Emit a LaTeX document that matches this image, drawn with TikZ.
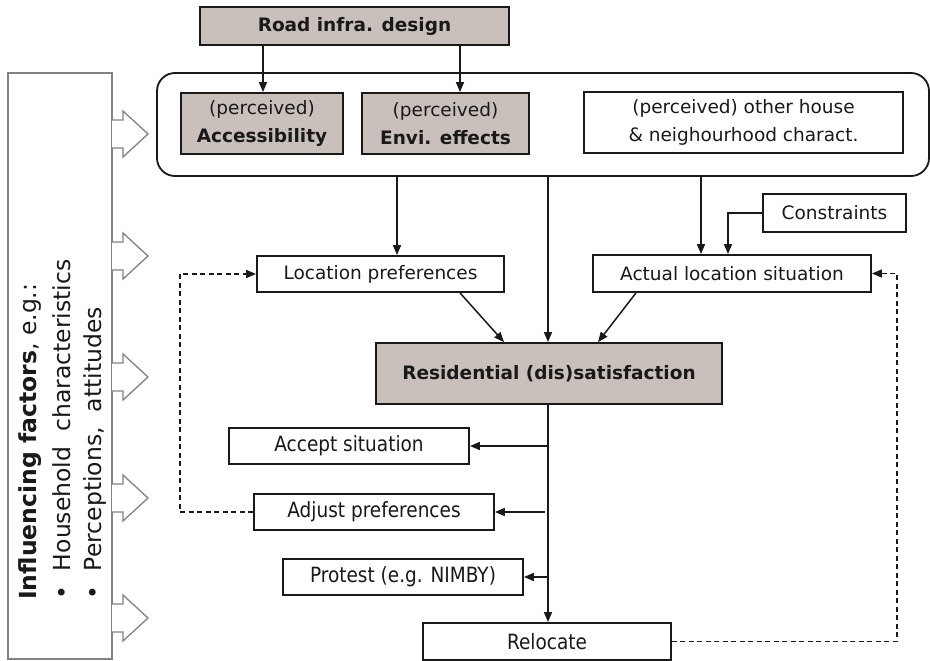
\documentclass[tikz,border=0pt]{standalone}
\usepackage{fontspec}
\setmainfont{DejaVu Sans}
\newfontfamily\condfont[FakeStretch=0.88]{DejaVu Sans}
\usetikzlibrary{arrows.meta,calc}
\definecolor{boxgray}{RGB}{201,192,188}
\definecolor{ink}{RGB}{25,25,25}
\definecolor{lightline}{RGB}{130,130,130}
\tikzset{
  arr/.style={draw=ink,line width=1.5pt,-{Triangle[length=10pt,width=8pt]}},
  dasharr/.style={draw=ink,line width=1.4pt,dash pattern=on 5pt off 3.5pt,-{Triangle[length=10pt,width=8pt]}},
  basebox/.style={draw=ink,line width=1.8pt,inner sep=0pt,align=center,text=ink,font=\fontsize{18.5}{27.5}\selectfont},
  graybox/.style={basebox,fill=boxgray},
  whitebox/.style={basebox,fill=white},
  condbox/.style={basebox,fill=white,font=\condfont\fontsize{21}{24}\selectfont},
  hollow/.style={draw=lightline,line width=1.3pt,fill=white},
  sidetext/.style={rotate=90,anchor=west,inner sep=0pt,text=ink,font=\fontsize{23.5}{26}\selectfont}
}
\begin{document}
\begin{tikzpicture}[x=1pt,y=-1pt]
\useasboundingbox (0,0) rectangle (930,661);
% container
\node[draw=ink,line width=1.8pt,rounded corners=18pt,minimum width=772pt,minimum height=103pt,inner sep=0pt] (cont) at (543,124.5) {};
% top boxes
\node[graybox,minimum width=309pt,minimum height=38pt] (road) at (354.5,26) {\textbf{Road infra. design}};
\node[graybox,minimum width=162pt,minimum height=61pt] (acc) at (262,123.5) {(perceived)\\\textbf{Accessibility}};
\node[graybox,minimum width=167pt,minimum height=61pt] (env) at (445.5,123.5) {(perceived)\\\textbf{Envi. effects}};
\node[whitebox,minimum width=319pt,minimum height=61pt] (oth) at (743.5,122.5) {(perceived) other house\\\& neighourhood charact.};
\node[whitebox,minimum width=143pt,minimum height=38pt] (cons) at (834.5,213) {Constraints};
\node[whitebox,minimum width=247pt,minimum height=36pt] (locpref) at (380.5,274) {Location preferences};
\node[whitebox,minimum width=278pt,minimum height=37pt] (actual) at (732,273.5) {Actual location situation};
\node[graybox,minimum width=346pt,minimum height=61pt] (resid) at (549,373.5) {\textbf{Residential (dis)satisfaction}};
\node[condbox,minimum width=240pt,minimum height=36pt] (accept) at (349,446) {Accept situation};
\node[condbox,minimum width=240pt,minimum height=36pt] (adjust) at (374,512) {Adjust preferences};
\node[condbox,minimum width=240pt,minimum height=36pt] (protest) at (403,577) {Protest (e.g. NIMBY)};
\node[condbox,minimum width=248pt,minimum height=37pt] (reloc) at (547,641.5) {Relocate};
% influencing factors
\node[draw=lightline,line width=1.3pt,minimum width=104pt,minimum height=586pt,inner sep=0pt] (infl) at (60,366) {};
\node[sidetext] (t1) at (30,600) {\textbf{Influencing factors}, e.g.:};
\node[sidetext] (t2) at (62,600) {\textbullet\ \ Household\ \ characteristics};
\node[sidetext] (t3) at (95,600) {\textbullet\ \ Perceptions,\ \ attitudes};
% hollow arrows
\foreach \c in {134,256,377,498,618}{
  \draw[hollow] (112,\c-14) -- (123,\c-14) -- (123,\c-23) -- (148,\c) -- (123,\c+23) -- (123,\c+14) -- (112,\c+14);
}
% connectors
\draw[arr] (road.south -| 263,0) -- (acc.north -| 263,0);
\draw[arr] (road.south -| 460,0) -- (env.north -| 460,0);
\draw[arr] (cont.south -| 397,0) -- (locpref.north -| 397,0);
\draw[arr] (cont.south -| 548,0) -- (resid.north -| 548,0);
\draw[arr] (cont.south -| 701,0) -- (actual.north -| 701,0);
\draw[arr] (cons.west) -| (actual.north -| 728,0);
\draw[arr] (locpref.south -| 460,0) -- (resid.north -| 504,0);
\draw[arr] (actual.south -| 636,0) -- (resid.north -| 598,0);
\draw[arr] (resid.south -| 548,0) -- (reloc.north -| 548,0);
\draw[arr] (accept.east -| 548,0) -- (accept.east);
\draw[arr] (adjust.east -| 545,0) -- (adjust.east);
\draw[arr] (protest.east -| 548,0) -- (protest.east);
\coordinate (rc1) at (897,641.5);
\coordinate (rc2) at (897,273.5);
\draw[dasharr] (reloc.east) -- (rc1) -- (rc2) -- (actual.east);
\coordinate (lc1) at (180,512);
\coordinate (lc2) at (180,274);
\draw[dasharr] (adjust.west) -- (lc1) -- (lc2) -- (locpref.west);
\end{tikzpicture}
\end{document}
